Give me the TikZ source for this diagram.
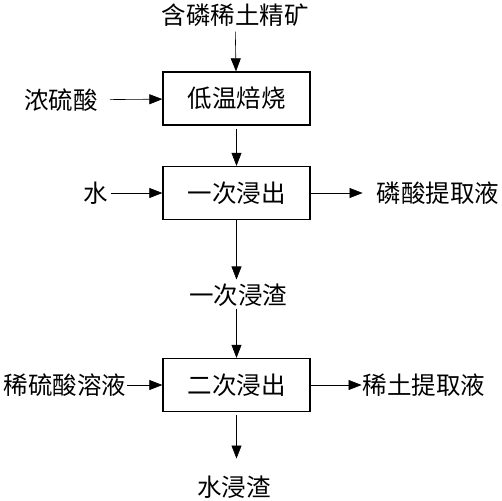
\documentclass[tikz,border=0pt]{standalone}
\usepackage{fontspec}
\newfontfamily\cjk{Noto Sans CJK SC}
\usetikzlibrary{arrows.meta}

\begin{document}
\begin{tikzpicture}[x=1pt,y=-1pt]
        \tikzstyle{every node}=[font=\cjk\fontsize{24.5}{24.5}\selectfont, inner sep=0pt]
        \tikzstyle{stage}=[draw, line width=1.3pt, minimum width=147pt, minimum height=53pt]
        \tikzstyle{flow}=[-{Triangle[length=13pt,width=10pt]}, line width=0.6pt]
        \useasboundingbox (0,0) rectangle (502,500);
        % process boxes
        \node[stage] (roast) at (236.5,98.5) {低温焙烧};
        \node[stage] (leach1) at (236.5,193) {一次浸出};
        \node[stage] (leach2) at (236.5,385) {二次浸出};
        % materials
        \node (ore) at (235,15) {含磷稀土精矿};
        \node (acid) at (61,100) {浓硫酸};
        \node (water) at (96,193) {水};
        \node (phos) at (438,193) {磷酸提取液};
        \node (slag) at (238,295) {一次浸渣};
        \node (dilute) at (65,385) {稀硫酸溶液};
        \node (ree) at (424,385) {稀土提取液};
        \node (residue) at (234,487) {水浸渣};
        % flows
        \draw[flow, shorten <=5pt] (ore) -- (roast);
        \draw[flow, shorten <=12pt] (acid) -- (roast);
        \draw[flow, shorten <=3pt] (roast) -- (leach1);
        \draw[flow, shorten <=3pt] (water) -- (leach1);
        \draw[flow, shorten >=14pt] (leach1) -- (phos);
        \draw[flow, shorten >=4pt] (leach1.south) -- (leach1.south |- slag.north);
        \draw[flow, shorten <=2pt] (leach2.north |- slag.south) -- (leach2.north);
        \draw[flow, shorten <=1pt] (dilute) -- (leach2);
        \draw[flow, shorten >=1pt] (leach2) -- (ree);
        \draw[flow, shorten <=3pt, shorten >=17pt] (leach2.south) -- (leach2.south |- residue.north);
\end{tikzpicture}
\end{document}
